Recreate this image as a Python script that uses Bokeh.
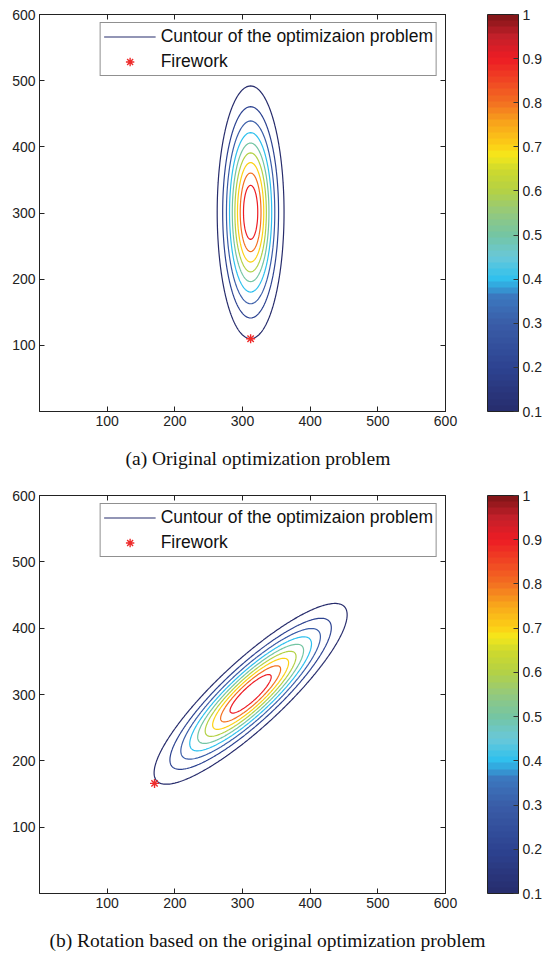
import numpy as np
from bokeh.plotting import figure
from bokeh.layouts import column
from bokeh.models import (ColorBar, LinearColorMapper, FixedTicker, LinearAxis, Legend,
                          LegendItem, Title, CustomJSTickFormatter, Range1d)
from bokeh.embed import file_html
from bokeh.resources import INLINE

# ---------------- data ----------------
X_TICKS = [100, 200, 300, 400, 500, 600]
Y_TICKS = [100, 200, 300, 400, 500, 600]
CB_TICKS = [0.1, 0.2, 0.3, 0.4, 0.5, 0.6, 0.7, 0.8, 0.9, 1.0]
LEVELS = [0.1, 0.2, 0.3, 0.4, 0.5, 0.6, 0.7, 0.8, 0.9]

CENTER_X = 312.0
CENTER_Y = 301.0
SIGMA_MINOR = 23.0
SIGMA_MAJOR = 89.0
ROTATION_DEG = [0.0, -46.5]          # panel (a), panel (b)

FIREWORK_X = [312.0, 170.0]
FIREWORK_Y = [110.0, 166.0]

CAPTIONS = ["(a) Original optimization problem",
            "(b) Rotation based on the original optimization problem"]
LEGEND_LABELS = ["Cuntour of the optimizaion problem", "Firework"]

# colormap anchors (value, colour)
CMAP_VALUES = [0.10, 0.20, 0.30, 0.36, 0.40, 0.45, 0.50, 0.55, 0.60, 0.65, 0.68,
               0.70, 0.75, 0.80, 0.85, 0.90, 0.95, 1.00]
CMAP_COLORS = ["#272c6c", "#2d4391", "#3a5da8", "#3b78bf", "#2ec0ee", "#69c8d9",
               "#74c5a3", "#94c97e", "#b3d145", "#d0da2c", "#f5e81b", "#fcd116",
               "#f8a81b", "#f37021", "#f04523", "#ed1c24", "#c3202a", "#7b1416"]
N_COLORS = 64
LOW, HIGH = 0.1, 1.0

# ---------------- helpers ----------------
def hex2rgb(h):
    h = h.lstrip("#")
    return np.array([int(h[i:i + 2], 16) for i in (0, 2, 4)], dtype=float)

def cmap(v):
    rgbs = np.array([hex2rgb(c) for c in CMAP_COLORS])
    out = [np.interp(v, CMAP_VALUES, rgbs[:, k]) for k in range(3)]
    return "#%02x%02x%02x" % tuple(int(round(c)) for c in out)

PALETTE = [cmap(LOW + (HIGH - LOW) * (i + 0.5) / N_COLORS) for i in range(N_COLORS)]
LINE_COLORS = [cmap(l) for l in LEVELS]

GX = np.arange(0.0, 601.0, 2.0)
GY = np.arange(0.0, 601.0, 2.0)
MX, MY = np.meshgrid(GX, GY)

def field(angle_deg):
    t = np.deg2rad(angle_deg)
    dx, dy = MX - CENTER_X, MY - CENTER_Y
    u = np.cos(t) * dx + np.sin(t) * dy
    v = -np.sin(t) * dx + np.cos(t) * dy
    return np.exp(-(u ** 2 / (2 * SIGMA_MINOR ** 2) + v ** 2 / (2 * SIGMA_MAJOR ** 2)))

AXC = "#222222"
TICK_FONT = "Liberation Sans"
EMPTY = "return ''"
FRAME_W = 406


def spacer_axis(ticks, size):
    return LinearAxis(ticker=FixedTicker(ticks=ticks), major_label_text_font_size="0px",
                      major_tick_in=0, major_tick_out=size, major_label_standoff=0,
                      minor_tick_line_color=None, axis_line_color=None,
                      major_tick_line_color=None, formatter=CustomJSTickFormatter(code=EMPTY))


def panel(idx, frame_h, top_border, bottom_border, cap_offset):
    p = figure(frame_width=FRAME_W, frame_height=frame_h, x_range=Range1d(0, 600),
               y_range=Range1d(0, 600), output_backend="svg", toolbar_location=None,
               min_border_left=39, min_border_top=top_border, min_border_right=0,
               min_border_bottom=bottom_border, background_fill_color="white",
               border_fill_color="white", outline_line_color=AXC)
    p.xgrid.visible = False
    p.ygrid.visible = False

    for ax, ticks in ((p.xaxis[0], X_TICKS), (p.yaxis[0], Y_TICKS)):
        ax.ticker = FixedTicker(ticks=ticks)
        ax.major_tick_in = 5
        ax.major_tick_out = 0
        ax.minor_tick_line_color = None
        ax.axis_line_color = AXC
        ax.major_tick_line_color = AXC
        ax.major_label_text_font = TICK_FONT
        ax.major_label_text_font_size = "14px"
        ax.major_label_text_color = "#222222"
        ax.major_label_standoff = 4

    top = LinearAxis(ticker=FixedTicker(ticks=X_TICKS), major_label_text_font_size="0px",
                     major_tick_in=5, major_tick_out=0, major_label_standoff=0,
                     minor_tick_line_color=None, axis_line_color=AXC,
                     major_tick_line_color=AXC, formatter=CustomJSTickFormatter(code=EMPTY))
    p.add_layout(top, "above")
    right = LinearAxis(ticker=FixedTicker(ticks=Y_TICKS), major_label_text_font_size="0px",
                       major_tick_in=5, major_tick_out=0, major_label_standoff=0,
                       minor_tick_line_color=None, axis_line_color=AXC,
                       major_tick_line_color=AXC, formatter=CustomJSTickFormatter(code=EMPTY))
    p.add_layout(right, "right")
    # invisible spacer between the box and the colour bar
    p.add_layout(spacer_axis(Y_TICKS, 42), "right")

    z = field(ROTATION_DEG[idx])
    cr = p.contour(GX, GY, z, levels=LEVELS, line_color=LINE_COLORS, line_width=1.2,
                   fill_color=None)
    fw = p.scatter(x=[FIREWORK_X[idx]], y=[FIREWORK_Y[idx]], marker="asterisk", size=9,
                   line_color="#ee2b2b", line_width=1.4)

    legend = Legend(items=[LegendItem(label=LEGEND_LABELS[0], renderers=[cr.line_renderer], index=0),
                           LegendItem(label=LEGEND_LABELS[1], renderers=[fw])],
                    location="top_right", margin=8, padding=3, spacing=4,
                    glyph_width=52, glyph_height=21, label_height=21, label_standoff=5,
                    label_text_font=TICK_FONT, label_text_font_size="17.5px",
                    label_text_color="#111111", border_line_color=AXC,
                    border_line_width=1, background_fill_alpha=1.0)
    p.add_layout(legend)

    mapper = LinearColorMapper(palette=PALETTE, low=LOW, high=HIGH)
    cb = ColorBar(color_mapper=mapper, ticker=FixedTicker(ticks=CB_TICKS),
                  formatter=CustomJSTickFormatter(code="return String(Math.round(tick*10)/10)"),
                  width=31, padding=0, margin=0, label_standoff=4,
                  major_label_text_font=TICK_FONT, major_label_text_font_size="14px",
                  major_label_text_color="#222222", major_tick_in=5, major_tick_out=0,
                  major_tick_line_color="#333333", minor_tick_line_color=None,
                  bar_line_color=AXC, bar_line_width=1, border_line_color=None)
    p.add_layout(cb, "right")

    # invisible spacer below the tick labels, then the caption
    p.add_layout(spacer_axis(X_TICKS, 15), "below")
    cap = Title(text=CAPTIONS[idx], align="left", offset=cap_offset,
                vertical_align="bottom", standoff=4,
                text_font="Liberation Serif", text_font_size="19.5px",
                text_font_style="normal", text_color="#111111")
    p.add_layout(cap, "below")
    return p


p1 = panel(0, 397, 14, 70, 86)
p2 = panel(1, 398, 14, 60, 10)
layout = column(p1, p2, spacing=0)

open("out.html", "w").write(file_html(layout, INLINE))
